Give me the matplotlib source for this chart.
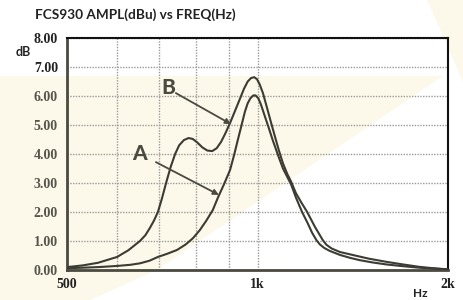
import matplotlib
matplotlib.use("Agg")
import matplotlib.pyplot as plt
from matplotlib.patches import Polygon
from matplotlib.ticker import FixedLocator, NullFormatter

# ---- data ----
freq_a = [500, 530, 560, 600, 630, 652, 675, 696, 720, 746, 770, 791, 811, 830,
          850, 866, 885, 905, 918, 930, 945, 955, 965, 975, 985, 993, 1003, 1012,
          1020, 1030, 1040, 1058, 1078, 1097, 1115, 1130, 1150, 1176, 1200, 1220,
          1240, 1255, 1275, 1300, 1350, 1400, 1450, 1520, 1600, 1700, 1800, 1900,
          2000]
ampl_a = [0.06, 0.08, 0.10, 0.14, 0.18, 0.23, 0.32, 0.45, 0.56, 0.69, 0.88, 1.10,
          1.38, 1.70, 2.07, 2.50, 2.95, 3.45, 3.95, 4.45, 5.05, 5.45, 5.75, 5.93,
          6.02, 6.02, 5.92, 5.72, 5.50, 5.22, 4.95, 4.45, 3.95, 3.50, 3.20, 2.95,
          2.50, 2.00, 1.62, 1.28, 1.02, 0.88, 0.76, 0.66, 0.52, 0.42, 0.34, 0.26,
          0.19, 0.13, 0.08, 0.05, 0.02]

freq_b = [500, 530, 560, 600, 625, 652, 665, 676, 686, 696, 706, 717, 729, 741,
          752, 765, 778, 790, 803, 818, 833, 848, 862, 876, 890, 905, 922, 938,
          952, 965, 977, 988, 998, 1008, 1020, 1035, 1050, 1065, 1080, 1097, 1115,
          1130, 1150, 1175, 1198, 1233, 1269, 1285, 1310, 1350, 1426, 1500, 1600,
          1700, 1800, 1900, 2000]
ampl_b = [0.10, 0.16, 0.25, 0.45, 0.68, 1.00, 1.20, 1.45, 1.70, 2.00, 2.45, 3.00,
          3.55, 4.00, 4.30, 4.48, 4.55, 4.52, 4.40, 4.23, 4.12, 4.10, 4.20, 4.42,
          4.72, 5.07, 5.50, 5.90, 6.25, 6.50, 6.62, 6.65, 6.58, 6.40, 6.10, 5.60,
          5.10, 4.62, 4.15, 3.68, 3.30, 3.05, 2.65, 2.30, 2.00, 1.48, 1.02, 0.87,
          0.74, 0.62, 0.50, 0.39, 0.28, 0.19, 0.11, 0.06, 0.02]

y_ticks = [0, 1, 2, 3, 4, 5, 6, 7, 8]
y_ticklabels = ["0.00", "1.00", "2.00", "3.00", "4.00", "5.00", "6.00", "7.00", "8.00"]
x_ticks = [500, 1000, 2000]
x_ticklabels = ["500", "1k", "2k"]
x_grid = [600, 700, 800, 900]

title = "FCS930 AMPL(dBu) vs FREQ(Hz)"

# ---- figure ----
W, H, DPI = 463, 300, 100
fig = plt.figure(figsize=(W / DPI, H / DPI), dpi=DPI)
fig.patch.set_facecolor("white")

# background watermark rays (pixel coords)
bg = fig.add_axes([0, 0, 1, 1], zorder=0)
bg.set_xlim(0, W)
bg.set_ylim(H, 0)
bg.axis("off")
cream = "#fdf9ea"
bg.add_patch(Polygon([(0, 76), (443, 76), (157, 270), (90, 300), (0, 300)],
                     closed=True, facecolor=cream, edgecolor="none"))
bg.add_patch(Polygon([(427, 0), (463, 0), (463, 82)],
                     closed=True, facecolor=cream, edgecolor="none"))

L, R, T, B = 67, 448, 38, 270
ax = fig.add_axes([L / W, (H - B) / H, (R - L) / W, (B - T) / H], zorder=1)
ax.set_facecolor("none")
ax.set_xscale("log")
ax.set_xlim(500, 2000)
ax.set_ylim(0, 8)

line_col = "#3c3c34"
ax.plot(freq_a, ampl_a, color=line_col, lw=1.5, solid_joinstyle="round", zorder=3)
ax.plot(freq_b, ampl_b, color=line_col, lw=1.5, solid_joinstyle="round", zorder=3)

ax.xaxis.set_major_locator(FixedLocator(x_ticks))
ax.xaxis.set_minor_locator(FixedLocator(x_grid))
ax.xaxis.set_minor_formatter(NullFormatter())
ax.set_xticklabels(x_ticklabels)
ax.set_yticks(y_ticks)
ax.set_yticklabels(y_ticklabels)

grid_kw = dict(color="#9a9a9a", lw=1.0, linestyle=(0, (1, 1)))
ax.grid(True, which="both", axis="x", **grid_kw)
ax.grid(True, which="major", axis="y", **grid_kw)
ax.set_axisbelow(True)

ax.tick_params(which="both", length=0)
ax.tick_params(axis="y", pad=6.5)
ax.tick_params(axis="x", pad=5.5)
for lab in ax.get_yticklabels():
    lab.set_fontfamily("Liberation Serif")
    lab.set_fontweight("bold")
    lab.set_fontsize(10)
    lab.set_color("#222222" if lab.get_text() in ("7.00", "8.00") else "#55554a")
for lab in ax.get_xticklabels():
    lab.set_fontfamily("Liberation Serif")
    lab.set_fontweight("bold")
    lab.set_fontsize(10)
    lab.set_color("#222222")

for s in ("left", "bottom"):
    ax.spines[s].set_color("#4a4a40")
    ax.spines[s].set_linewidth(2.0)
for s in ("top", "right"):
    ax.spines[s].set_color("#111111")
    ax.spines[s].set_linewidth(1.5)

# texts (pixel positions on the figure)
def fx(px):
    return px / W

def fy(py):
    return 1 - py / H

fig.text(fx(35), fy(15), title, family="Lato", weight="bold", fontsize=9.8,
         color="#222222", ha="left", va="center", zorder=5)
fig.text(fx(23), fy(52), "dB", family="Lato", weight="bold", fontsize=9,
         color="#222222", ha="center", va="center", zorder=5)
fig.text(fx(420), fy(299), "Hz", family="Lato", weight="bold", fontsize=8.5,
         color="#222222", ha="center", va="bottom", zorder=5)

# annotations
ann_col = "#4a4a40"
ax.text(722, 6.28, "B", family="Lato", weight="black", fontsize=15,
        color=ann_col, ha="center", va="center", zorder=5)
ax.text(652, 4.0, "A", family="Lato", weight="black", fontsize=15,
        color=ann_col, ha="center", va="center", zorder=5)
arrow_kw = dict(arrowstyle="-|>", color=ann_col, lw=1.3, mutation_scale=8,
                shrinkA=0, shrinkB=0)
ax.annotate("", xy=(908, 5.03), xytext=(743, 6.1), arrowprops=arrow_kw, zorder=5)
ax.annotate("", xy=(869, 2.59), xytext=(691, 3.72), arrowprops=arrow_kw, zorder=5)

fig.savefig("out.png", dpi=DPI, facecolor="white")
